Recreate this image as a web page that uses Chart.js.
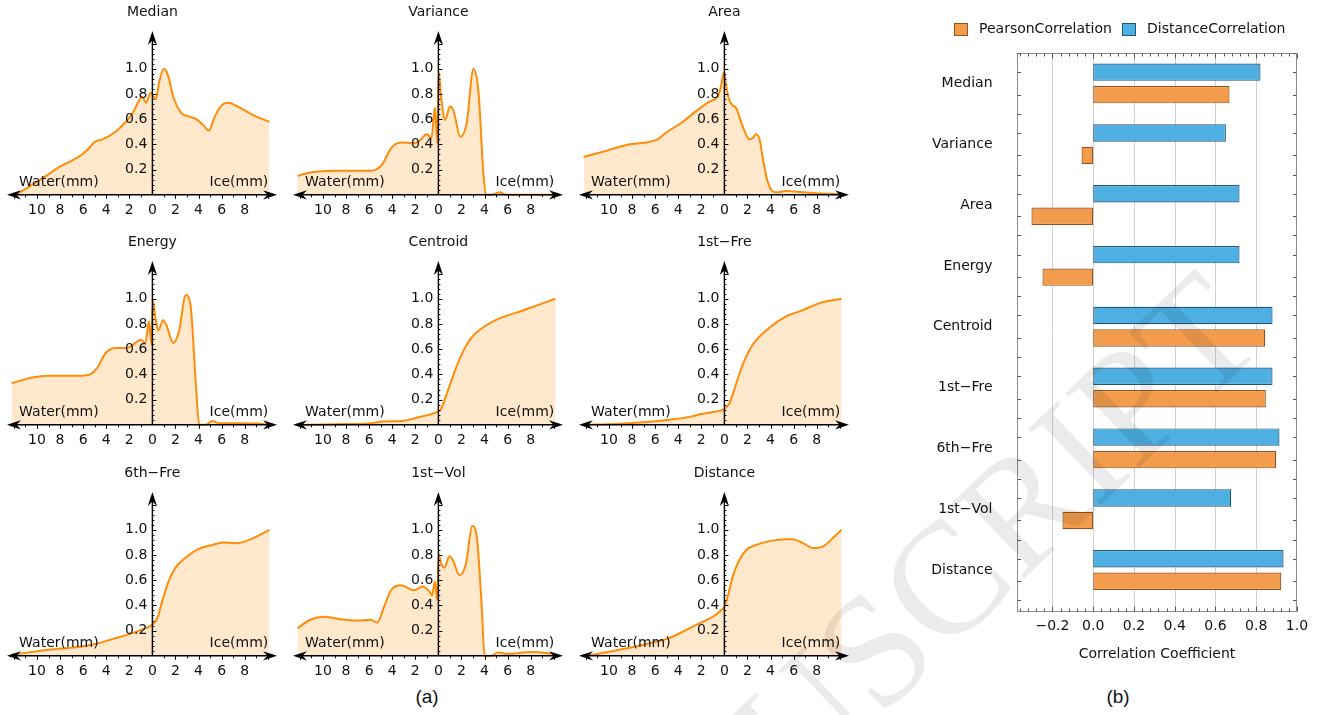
<!DOCTYPE html>
<html>
<head>
<meta charset="utf-8">
<title>Feature response curves and correlation coefficients</title>
<script src="https://cdn.jsdelivr.net/npm/chart.js@4.4.1/dist/chart.umd.min.js"></script>
<style>
  html, body { margin: 0; padding: 0; background: #ffffff; }
  #page { position: relative; width: 1332px; height: 715px; overflow: hidden; background: #ffffff; }
  canvas.panel { position: absolute; }
  #bars { position: absolute; left: 900px; top: 0px; }
  #mark { position: absolute; left: 0; top: 0; pointer-events: none; }
  .cap { position: absolute; font: 19px "Liberation Sans", Arial, sans-serif; color: #111; transform: translate(-50%, -50%); white-space: nowrap; }
</style>
</head>
<body>
<div id="page">
  <div class="cap" style="left:427px; top:697px;">(a)</div>
  <div class="cap" style="left:1118px; top:697px;">(b)</div>
</div>
<script>
// ---- feature names (panel titles and bar categories) ----
const categories = ['Median', 'Variance', 'Area', 'Energy', 'Centroid', '1st\u2212Fre', '6th\u2212Fre', '1st\u2212Vol', 'Distance'];

// ---- normalised response vs. water (negative) / ice (positive) thickness in mm ----
const medianCurve = [[-12.2,0.0],[-11.5,0.02],[-10.4,0.08],[-9.2,0.15],[-8.1,0.22],[-7.0,0.27],[-6.1,0.32],[-5.5,0.37],[-5.0,0.42],[-4.3,0.44],[-3.2,0.50],[-2.3,0.58],[-1.7,0.65],[-1.15,0.75],[-0.9,0.78],[-0.55,0.73],[-0.15,0.81],[0.3,0.76],[0.6,0.90],[1.0,1.0],[1.35,0.95],[1.8,0.78],[2.5,0.65],[3.2,0.62],[3.8,0.60],[4.4,0.555],[4.9,0.51],[5.4,0.62],[6.0,0.71],[6.55,0.73],[7.6,0.69],[9.0,0.62],[10.15,0.58]];
const varianceCurve = [[-12.2,0.15],[-11.2,0.175],[-10.4,0.185],[-9.0,0.19],[-7.5,0.19],[-6.1,0.19],[-5.4,0.20],[-4.8,0.25],[-4.1,0.37],[-3.2,0.415],[-2.3,0.41],[-1.75,0.42],[-1.0,0.48],[-0.6,0.45],[-0.3,0.69],[-0.08,0.41],[0.02,0.98],[0.23,0.78],[0.58,0.595],[1.0,0.70],[1.3,0.67],[1.9,0.46],[2.45,0.57],[3.04,1.0],[3.48,0.81],[3.9,0.17],[4.12,0.0],[4.6,0.0],[5.3,0.02],[5.9,0.0],[10.15,0.0]];
const areaCurve = [[-12.2,0.30],[-10.6,0.34],[-8.3,0.40],[-6.8,0.415],[-5.8,0.44],[-5.1,0.49],[-3.6,0.58],[-2.5,0.66],[-1.3,0.74],[-0.58,0.78],[-0.3,0.86],[-0.12,0.95],[0.0,0.97],[0.14,0.87],[0.43,0.75],[0.72,0.71],[1.0,0.69],[1.6,0.54],[2.15,0.44],[2.45,0.45],[2.75,0.48],[3.05,0.44],[3.35,0.28],[3.75,0.105],[4.2,0.026],[4.5,0.02],[5.35,0.03],[6.8,0.02],[8.5,0.01],[10.15,0.005]];
const energyCurve = [[-12.2,0.33],[-10.4,0.376],[-9.0,0.39],[-7.5,0.39],[-6.1,0.39],[-5.4,0.40],[-4.8,0.45],[-4.05,0.57],[-3.2,0.61],[-2.3,0.61],[-1.75,0.63],[-1.0,0.675],[-0.6,0.65],[-0.3,0.82],[-0.07,0.635],[0.04,0.99],[0.23,0.87],[0.52,0.75],[0.93,0.83],[1.22,0.79],[1.8,0.65],[2.3,0.74],[2.9,1.03],[3.33,0.93],[3.77,0.32],[4.06,0.0],[4.6,0.0],[5.2,0.03],[5.8,0.013],[7.5,0.013],[9.0,0.01],[10.15,0.0]];
const centroidCurve = [[-12.2,0.0],[-10.0,0.003],[-8.0,0.006],[-6.1,0.01],[-4.7,0.026],[-3.25,0.03],[-1.8,0.058],[-0.64,0.085],[-0.06,0.105],[0.2,0.12],[0.8,0.265],[1.4,0.42],[2.0,0.555],[2.85,0.69],[4.0,0.78],[5.45,0.85],[6.9,0.894],[8.6,0.95],[10.15,1.0]];
const fre1Curve = [[-12.2,0.0],[-11.3,0.002],[-9.1,0.008],[-6.2,0.026],[-4.8,0.04],[-3.0,0.063],[-1.9,0.087],[-0.7,0.106],[-0.1,0.12],[0.43,0.17],[1.0,0.32],[1.6,0.48],[2.45,0.635],[3.9,0.77],[5.35,0.86],[6.8,0.91],[8.25,0.966],[10.15,1.0]];
const fre6Curve = [[-12.2,0.01],[-11.6,0.016],[-9.0,0.048],[-6.1,0.074],[-4.65,0.10],[-3.2,0.14],[-1.75,0.18],[-0.6,0.22],[0.0,0.246],[0.43,0.30],[0.87,0.44],[1.45,0.60],[2.0,0.70],[2.9,0.78],[4.05,0.85],[5.2,0.88],[6.1,0.90],[7.25,0.894],[8.4,0.92],[10.15,1.0]];
const vol1Curve = [[-12.2,0.22],[-11.1,0.286],[-9.9,0.31],[-8.5,0.29],[-7.0,0.28],[-5.9,0.286],[-5.3,0.265],[-4.7,0.39],[-4.1,0.52],[-3.25,0.56],[-2.1,0.52],[-1.35,0.55],[-0.78,0.51],[-0.55,0.48],[-0.3,0.59],[-0.1,0.44],[0.02,0.81],[0.23,0.735],[0.52,0.70],[0.96,0.79],[1.25,0.76],[1.83,0.64],[2.4,0.735],[2.93,1.03],[3.36,0.92],[3.77,0.365],[4.0,0.0],[4.6,0.0],[5.15,0.026],[6.0,0.016],[8.0,0.03],[9.5,0.02],[10.15,0.01]];
const distanceCurve = [[-12.2,0.0],[-11.45,0.008],[-9.1,0.048],[-7.7,0.074],[-6.2,0.106],[-4.8,0.14],[-3.3,0.206],[-1.9,0.27],[-1.0,0.31],[-0.3,0.36],[0.0,0.39],[0.43,0.52],[0.72,0.63],[1.3,0.76],[1.9,0.84],[2.75,0.88],[3.9,0.91],[5.35,0.925],[5.95,0.925],[6.8,0.894],[7.7,0.855],[8.55,0.868],[9.4,0.934],[10.15,1.0]];
const curves = [medianCurve, varianceCurve, areaCurve, energyCurve, centroidCurve, fre1Curve, fre6Curve, vol1Curve, distanceCurve];

// ---- axis tick labels of the small panels ----
const panelXTicks = [-10, -8, -6, -4, -2, 0, 2, 4, 6, 8];
const panelYTicks = [0.2, 0.4, 0.6, 0.8, 1.0];

// ---- correlation coefficients per feature ----
const pearsonCorrelation  = [0.669, -0.057, -0.303, -0.249, 0.844, 0.847, 0.898, -0.151, 0.923];
const distanceCorrelation = [0.821,  0.651,  0.718,  0.718, 0.880, 0.880, 0.914,  0.677, 0.934];
const barXTicks = [-0.2, 0.0, 0.2, 0.4, 0.6, 0.8, 1.0];

const FONT = '"DejaVu Sans", "Liberation Sans", Arial, sans-serif';
const INK = '#111111';
const LINE_ORANGE = 'rgb(255,140,8)';
const FILL_ORANGE = 'rgba(255,140,0,0.2)';

// Mathematica-style notched arrowhead
function arrowHead(ctx, tx, ty, dx, dy) {
  const L = 14, W = 4.6, N = 4.5;
  const nx = -dy, ny = dx;
  ctx.beginPath();
  ctx.moveTo(tx, ty);
  ctx.lineTo(tx - L * dx + W * nx, ty - L * dy + W * ny);
  ctx.lineTo(tx - (L - N) * dx, ty - (L - N) * dy);
  ctx.lineTo(tx - L * dx - W * nx, ty - L * dy - W * ny);
  ctx.closePath();
  ctx.fill();
}

// Crossing axes with arrows, ticks and labels for each small panel
const arrowAxes = {
  id: 'arrowAxes',
  afterDatasetsDraw(chart, args, opts) {
    const { ctx, scales: { x, y } } = chart;
    const x0 = x.getPixelForValue(0);
    const y0 = y.getPixelForValue(0);
    const left = x.getPixelForValue(x.min);
    const right = x.getPixelForValue(x.max);
    const top = y.getPixelForValue(y.max);
    ctx.save();
    ctx.strokeStyle = '#000';
    ctx.fillStyle = '#000';
    ctx.lineWidth = 1.4;
    ctx.beginPath();
    ctx.moveTo(left + 6, y0); ctx.lineTo(right - 6, y0);
    ctx.moveTo(x0, y0); ctx.lineTo(x0, top + 6);
    ctx.stroke();
    arrowHead(ctx, left, y0, -1, 0);
    arrowHead(ctx, right, y0, 1, 0);
    arrowHead(ctx, x0, top, 0, -1);

    // ticks
    ctx.lineWidth = 1;
    ctx.beginPath();
    for (let v = -12; v <= 10; v++) {
      if (v === 0) continue;
      const px = Math.round(x.getPixelForValue(v)) + 0.5;
      const len = (v % 2 === 0) ? 4 : 2.5;
      ctx.moveTo(px, y0); ctx.lineTo(px, y0 + len);
    }
    for (let k = 1; k <= 30; k++) {
      const v = k * 0.04;
      const py = Math.round(y.getPixelForValue(v)) + 0.5;
      const len = (k % 5 === 0) ? 4 : 2;
      ctx.moveTo(x0, py); ctx.lineTo(x0 + len, py);
    }
    ctx.stroke();

    // labels
    ctx.fillStyle = INK;
    ctx.font = '14px ' + FONT;
    ctx.textBaseline = 'middle';
    ctx.textAlign = 'center';
    for (const v of panelXTicks) {
      ctx.fillText(String(Math.abs(v)), x.getPixelForValue(v), y0 + 16);
    }
    ctx.textAlign = 'right';
    for (const v of panelYTicks) {
      ctx.fillText(v.toFixed(1), x0 - 5, y.getPixelForValue(v));
    }
    ctx.textAlign = 'left';
    ctx.fillText('Water(mm)', x.getPixelForValue(-11.55), y0 - 12);
    ctx.textAlign = 'right';
    ctx.fillText('Ice(mm)', x.getPixelForValue(10.04), y0 - 12);
    ctx.textAlign = 'center';
    ctx.fillText(opts.title, x0, 12);
    ctx.restore();
  }
};

const page = document.getElementById('page');
const colLeft = [0, 286, 572];
const rowTop = [0, 230, 461];

curves.forEach((pts, i) => {
  const cv = document.createElement('canvas');
  cv.className = 'panel';
  cv.width = 286; cv.height = 230;
  cv.style.left = colLeft[i % 3] + 'px';
  cv.style.top = rowTop[Math.floor(i / 3)] + 'px';
  page.appendChild(cv);
  new Chart(cv, {
    type: 'line',
    data: {
      datasets: [{
        data: pts.map(([x, y]) => ({ x, y })),
        borderColor: LINE_ORANGE,
        backgroundColor: FILL_ORANGE,
        fill: 'origin',
        borderWidth: 2,
        pointRadius: 0,
        cubicInterpolationMode: 'monotone'
      }]
    },
    options: {
      responsive: false,
      animation: false,
      events: [],
      layout: { padding: { left: 7, right: 9, top: 31, bottom: 10 } },
      scales: {
        x: { type: 'linear', min: -12.6, max: 10.8, display: false },
        y: { type: 'linear', min: -0.2, max: 1.3, display: false }
      },
      plugins: {
        legend: { display: false },
        tooltip: { enabled: false },
        arrowAxes: { title: categories[i] }
      }
    },
    plugins: [arrowAxes]
  });
});

// ---- horizontal bar chart of correlation coefficients ----
const PC_FILL = 'rgb(243,157,76)', PC_EDGE = 'rgb(150,82,30)';
const DC_FILL = 'rgb(77,175,226)', DC_EDGE = 'rgb(30,86,126)';

const frameAxes = {
  id: 'frameAxes',
  beforeDatasetsDraw(chart) {
    const { ctx, chartArea: a, scales: { x } } = chart;
    ctx.save();
    ctx.strokeStyle = '#d2d2d2';
    ctx.lineWidth = 1;
    ctx.beginPath();
    for (const v of barXTicks) {
      if (v >= 1) continue;
      const px = Math.round(x.getPixelForValue(v)) + 0.5;
      ctx.moveTo(px, a.top); ctx.lineTo(px, a.bottom);
    }
    ctx.stroke();
    ctx.restore();
  },
  afterDatasetsDraw(chart) {
    const { ctx, chartArea: a, scales: { x, y } } = chart;
    ctx.save();
    const L = Math.round(a.left) + 0.5, R = Math.round(a.right) - 0.5;
    const T = Math.round(a.top) + 0.5, B = Math.round(a.bottom) - 0.5;
    ctx.strokeStyle = '#8c8c8c';
    ctx.lineWidth = 1;
    ctx.strokeRect(L, T, R - L, B - T);
    ctx.strokeStyle = '#555';
    ctx.beginPath();
    for (let k = -9; k <= 25; k++) {
      const v = k * 0.04;
      const px = Math.round(x.getPixelForValue(v)) + 0.5;
      const len = (k % 5 === 0) ? 5 : 3;
      ctx.moveTo(px, T); ctx.lineTo(px, T + len);
      ctx.moveTo(px, B); ctx.lineTo(px, B - len);
    }
    const marks = [];
    categories.forEach((c, i) => { marks.push(i - 0.5, i - 0.185, i + 0.185); });
    marks.push(categories.length - 0.5);
    for (const v of marks) {
      const py = Math.round(y.getPixelForValue(v)) + 0.5;
      ctx.moveTo(L, py); ctx.lineTo(L + 3.5, py);
      ctx.moveTo(R, py); ctx.lineTo(R - 3.5, py);
    }
    ctx.stroke();

    ctx.fillStyle = INK;
    ctx.font = '14px ' + FONT;
    ctx.textBaseline = 'middle';
    ctx.textAlign = 'right';
    categories.forEach((c, i) => ctx.fillText(c, L - 25, y.getPixelForValue(i)));
    ctx.textAlign = 'center';
    for (const v of barXTicks) {
      const s = (v < 0 ? '\u2212' : '') + Math.abs(v).toFixed(1);
      ctx.fillText(s, x.getPixelForValue(v), B + 15);
    }
    ctx.fillText('Correlation Coefficient', (a.left + a.right) / 2, B + 43);

    // legend
    const items = [
      { label: 'PearsonCorrelation', fill: PC_FILL, edge: PC_EDGE, bx: 54.5 },
      { label: 'DistanceCorrelation', fill: DC_FILL, edge: DC_EDGE, bx: 222.5 }
    ];
    ctx.textAlign = 'left';
    for (const it of items) {
      ctx.fillStyle = it.fill;
      ctx.fillRect(it.bx, 23.5, 13, 12);
      ctx.strokeStyle = it.edge;
      ctx.strokeRect(it.bx, 23.5, 13, 12);
      ctx.fillStyle = INK;
      ctx.fillText(it.label, it.bx + 24.5, 29.5);
    }
    ctx.restore();
  }
};

const barCanvas = document.createElement('canvas');
barCanvas.id = 'bars';
barCanvas.width = 432; barCanvas.height = 715;
page.appendChild(barCanvas);
new Chart(barCanvas, {
  type: 'bar',
  data: {
    datasets: [
      { label: 'DistanceCorrelation', data: distanceCorrelation.map((v, i) => ({ x: v, y: i })),
        backgroundColor: DC_FILL, borderColor: DC_EDGE },
      { label: 'PearsonCorrelation', data: pearsonCorrelation.map((v, i) => ({ x: v, y: i })),
        backgroundColor: PC_FILL, borderColor: PC_EDGE }
    ]
  },
  options: {
    indexAxis: 'y',
    responsive: false,
    animation: false,
    events: [],
    layout: { padding: { left: 117, right: 35, top: 53, bottom: 103 } },
    datasets: { bar: { borderWidth: 1.2, borderSkipped: false, categoryPercentage: 0.74, barPercentage: 0.773 } },
    scales: {
      x: { type: 'linear', min: -0.374, max: 1.0, display: false },
      y: { type: 'linear', min: -0.5, max: 8.69, reverse: true, offset: false, display: false,
           grid: { offset: false }, ticks: { stepSize: 1, includeBounds: false } }
    },
    plugins: { legend: { display: false }, tooltip: { enabled: false } }
  },
  plugins: [frameAxes]
});

// ---- diagonal watermark over the figure ----
const mark = document.createElement('canvas');
mark.id = 'mark';
mark.width = 1332; mark.height = 715;
page.appendChild(mark);
(function () {
  const ctx = mark.getContext('2d');
  ctx.save();
  ctx.translate(1240, 312);
  ctx.rotate(-44 * Math.PI / 180);
  ctx.font = '160px "Liberation Serif", "DejaVu Serif", serif';
  ctx.fillStyle = 'rgba(0,0,0,0.08)';
  ctx.textAlign = 'right';
  ctx.textBaseline = 'middle';
  ctx.fillText('ACCEPTED MANUSCRIPT', 0, 0);
  ctx.restore();
})();
</script>
</body>
</html>
